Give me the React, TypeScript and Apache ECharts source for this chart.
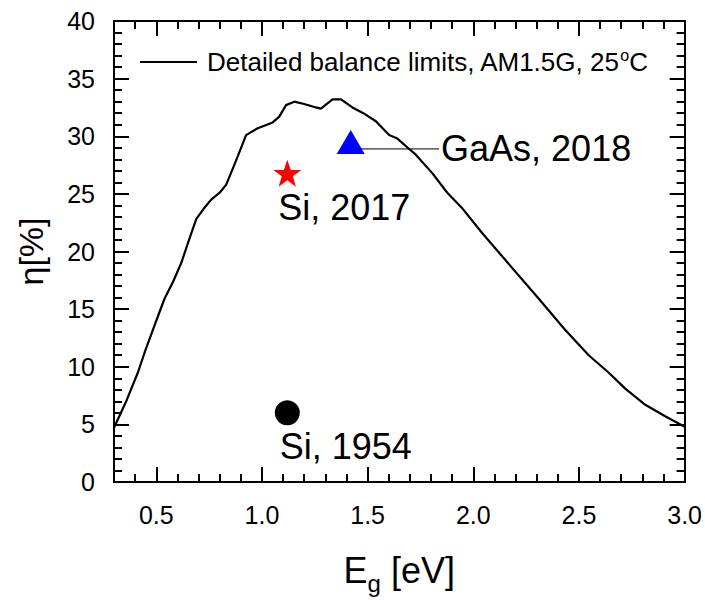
import { useEffect, useRef } from "react";
import * as echarts from "echarts";

const FONT = "'Liberation Sans', Arial, Helvetica, sans-serif";

// Detailed-balance (Shockley–Queisser) limit
const bandGapEV = [
  0.3, 0.36, 0.413, 0.45, 0.492, 0.539, 0.58, 0.618, 0.655, 0.689,
  0.728, 0.76, 0.8, 0.831, 0.878, 0.925, 0.98, 1.051, 1.082, 1.114,
  1.153, 1.2, 1.256, 1.279, 1.334, 1.374, 1.428, 1.48, 1.539, 1.602,
  1.641, 1.69, 1.728, 1.806, 1.877, 1.95, 2.042, 2.15, 2.31, 2.43,
  2.546, 2.64, 2.719, 2.814, 2.908, 3.0,
];
const efficiencyPct = [
  4.7, 7.1, 9.5, 11.5, 13.6, 15.9, 17.4, 19.0, 21.0, 22.8,
  23.8, 24.5, 25.1, 25.8, 27.9, 30.1, 30.7, 31.2, 31.7, 32.7,
  33.0, 32.8, 32.5, 32.4, 33.2, 33.2, 32.5, 32.0, 31.3, 30.1,
  29.8, 29.0, 28.4, 26.8, 25.1, 23.7, 21.6, 19.3, 15.9, 13.3,
  11.0, 9.5, 8.1, 6.7, 5.7, 4.8,
];

const curveName = "Detailed balance limits, AM1.5G, 25°C";

// Record cells
const si2017 = [[1.12, 26.8]];
const si1954 = [[1.12, 6.0]];
const gaas2018 = [[1.42, 29.5]];
const gaasLeader = [[1.42, 28.9], [1.838, 28.9]];
const gaasLabel = "GaAs, 2018";
const textLabels = [
  { value: [1.075, 23.8], text: "Si, 2017" },
  { value: [1.082, 3.1], text: "Si, 1954" },
];

// Axes and ticks
const xMin = 0.3;
const xMax = 3.0;
const xMajorTicks = [0.5, 1.0, 1.5, 2.0, 2.5, 3.0];
const xMinorTicks = [
  0.4, 0.6, 0.7, 0.8, 0.9, 1.1, 1.2, 1.3, 1.4, 1.6, 1.7, 1.8, 1.9,
  2.1, 2.2, 2.3, 2.4, 2.6, 2.7, 2.8, 2.9,
];
const yMin = 0;
const yMax = 40;
const yInterval = 5;

const STAR =
  "path://M50,0 L61.8,34.5 L97.6,34.5 L68.8,55.9 L79.4,90.5 L50,69.1 L20.6,90.5 L31.2,55.9 L2.4,34.5 L38.2,34.5 Z";

const MAJOR_LEN = 15;
const MINOR_LEN = 8;

export default function App() {
  const ref = useRef<HTMLDivElement>(null);

  useEffect(() => {
    if (!ref.current) return;
    const chart = echarts.init(ref.current, null, { renderer: "svg" });

    const frameLine = () => ({ show: true, onZero: false, lineStyle: { color: "#000", width: 2 } });
    const tick = (len: number, values?: number[]) => ({
      show: true,
      inside: true,
      length: len,
      ...(values ? { customValues: values } : {}),
      lineStyle: { color: "#000", width: 2 },
    });

    const xAxisBase = (position: "top" | "bottom") => ({
      type: "value",
      position,
      min: xMin,
      max: xMax,
      axisLine: frameLine(),
      splitLine: { show: false },
    });

    const yAxisBase = (position: "left" | "right") => ({
      type: "value",
      position,
      min: yMin,
      max: yMax,
      interval: yInterval,
      axisLine: frameLine(),
      axisTick: tick(MAJOR_LEN),
      minorTick: { show: true, splitNumber: 5, length: MINOR_LEN, lineStyle: { color: "#000", width: 2 } },
      splitLine: { show: false },
      minorSplitLine: { show: false },
    });

    const option: any = {
      animation: false,
      backgroundColor: "#fff",
      textStyle: { fontFamily: FONT },
      grid: { left: 114, right: 19, top: 21, bottom: 116 },
      legend: {
        show: true,
        left: 140,
        top: 47,
        padding: 0,
        itemWidth: 57,
        itemHeight: 2,
        icon: "rect",
        itemStyle: { color: "#000", opacity: 1 },
        data: [curveName],
        formatter: () => "Detailed balance limits, AM1.5G, 25{sup|o}C",
        textStyle: {
          fontFamily: FONT,
          fontSize: 26,
          color: "#000",
          lineHeight: 30,
          padding: [0, 0, 0, 5],
          rich: {
            sup: { fontFamily: FONT, fontSize: 16, lineHeight: 16, verticalAlign: "top", color: "#000" },
          },
        },
      },
      xAxis: [
        {
          ...xAxisBase("bottom"),
          axisTick: tick(MAJOR_LEN, xMajorTicks),
          axisLabel: {
            show: true,
            customValues: xMajorTicks,
            margin: 20,
            fontSize: 25,
            fontFamily: FONT,
            color: "#000",
            formatter: (v: number) => v.toFixed(1),
          },
          name: "{m|E}{s|g}{m| [eV]}",
          nameLocation: "middle",
          nameGap: 63,
          nameTextStyle: {
            rich: {
              m: { fontFamily: FONT, fontSize: 36, lineHeight: 50, verticalAlign: "middle", color: "#000" },
              s: { fontFamily: FONT, fontSize: 24, lineHeight: 20, verticalAlign: "bottom", color: "#000" },
            },
          },
        },
        {
          ...xAxisBase("bottom"),
          axisTick: tick(MINOR_LEN, xMinorTicks),
          axisLabel: { show: false },
        },
        {
          ...xAxisBase("top"),
          axisTick: tick(MAJOR_LEN, xMajorTicks),
          axisLabel: { show: false },
        },
        {
          ...xAxisBase("top"),
          axisTick: tick(MINOR_LEN, xMinorTicks),
          axisLabel: { show: false },
        },
      ],
      yAxis: [
        {
          ...yAxisBase("left"),
          axisLabel: { show: true, margin: 19, fontSize: 25, fontFamily: FONT, color: "#000" },
          name: "η[%]",
          nameLocation: "middle",
          nameGap: 66,
          nameTextStyle: { fontFamily: FONT, fontSize: 34, color: "#000" },
        },
        {
          ...yAxisBase("right"),
          axisLabel: { show: false },
        },
      ],
      series: [
        {
          name: curveName,
          type: "line",
          data: bandGapEV.map((e, i) => [e, efficiencyPct[i]]),
          symbol: "none",
          showSymbol: false,
          lineStyle: { color: "#000", width: 2.2 },
          itemStyle: { color: "#000" },
          z: 3,
        },
        {
          name: "GaAs leader",
          type: "line",
          data: gaasLeader,
          symbol: "none",
          showSymbol: false,
          lineStyle: { color: "#000", width: 1 },
          itemStyle: { color: "#000" },
          endLabel: {
            show: true,
            formatter: () => gaasLabel,
            distance: 2,
            fontFamily: FONT,
            fontSize: 36,
            color: "#000",
          },
          z: 2,
        },
        {
          name: "Si 2017",
          type: "scatter",
          data: si2017,
          symbol: STAR,
          symbolSize: [28, 27],
          itemStyle: { color: "#ff0000", opacity: 1 },
          z: 5,
        },
        {
          name: "GaAs 2018",
          type: "scatter",
          data: gaas2018,
          symbol: "triangle",
          symbolSize: [28, 24],
          itemStyle: { color: "#0000ff", opacity: 1 },
          z: 5,
        },
        {
          name: "Si 1954",
          type: "scatter",
          data: si1954,
          symbol: "circle",
          symbolSize: 25,
          itemStyle: { color: "#000", opacity: 1 },
          z: 5,
        },
        {
          name: "labels",
          type: "scatter",
          data: textLabels.map((d) => ({ value: d.value, name: d.text })),
          symbolSize: 1,
          itemStyle: { color: "rgba(0,0,0,0)", opacity: 1 },
          label: {
            show: true,
            position: "right",
            distance: 0,
            formatter: (p: any) => p.name,
            fontFamily: FONT,
            fontSize: 36,
            color: "#000",
            opacity: 1,
          },
          z: 4,
        },
      ],
    };

    chart.setOption(option);
    return () => chart.dispose();
  }, []);

  return (
    <div
      ref={ref}
      style={{ position: "fixed", left: 0, top: 0, width: 705, height: 600, background: "#fff" }}
    />
  );
}
